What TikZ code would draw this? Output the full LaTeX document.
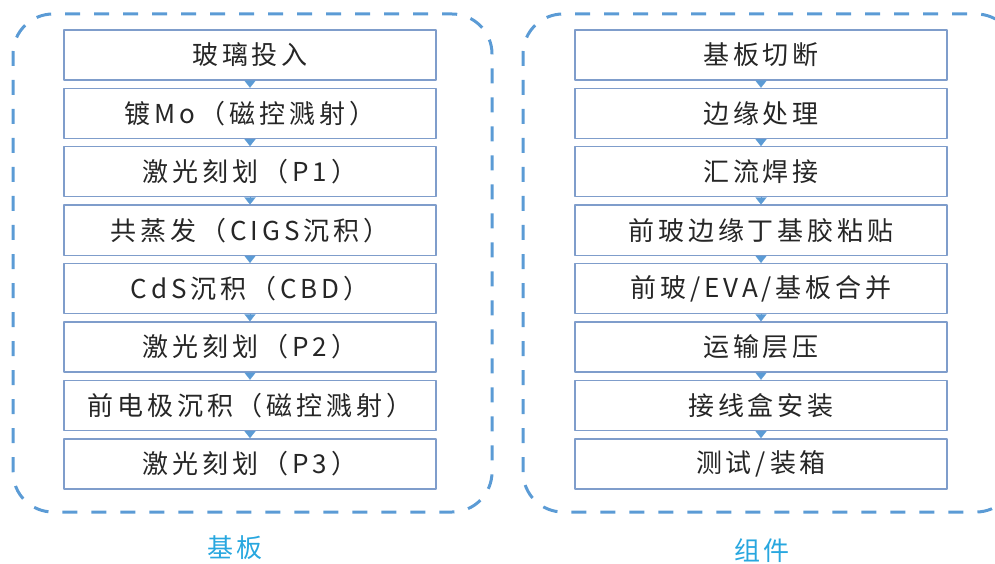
\documentclass[tikz,border=0pt]{standalone}
\usepackage{fontspec}
\setmainfont{Noto Sans CJK SC}
\newfontfamily\boxfont[LetterSpace=15]{Noto Sans CJK SC}
\usetikzlibrary{arrows.meta,positioning}
\definecolor{frameblue}{RGB}{91,155,213}
\definecolor{boxedge}{RGB}{127,157,203}
\definecolor{labelcyan}{RGB}{40,167,223}

\begin{document}
\begin{tikzpicture}[x=1pt,y=1pt,>=Stealth,line join=round,
 stepbox/.style={draw=boxedge,line width=1.4pt,minimum width=372pt,minimum height=50pt,
  inner sep=0pt,font=\boxfont\fontsize{26}{28}\selectfont,text=black!85},
 flowtri/.style={-{Triangle[width=11pt,length=7pt]},frameblue,line width=0.1pt},
 groupframe/.style={draw=frameblue,line width=3pt,dash pattern=on 15pt off 14pt,rounded corners=40pt},
 grouplabel/.style={text=labelcyan,font=\boxfont\fontsize{26}{28}\selectfont}]
 \useasboundingbox (0,0) rectangle (995,563);
 % dashed group frames
 \draw[groupframe] (13,51) rectangle (492,549);
 \draw[groupframe] (523,51) rectangle (1016,549);
 % left column
 \foreach \txt [count=\i] in {玻璃投入,镀Mo（磁控溅射）,激光刻划（P1）,共蒸发（CIGS沉积）,
   CdS沉积（CBD）,激光刻划（P2）,前电极沉积（磁控溅射）,激光刻划（P3）}{
  \node[stepbox] (jb\i) at (250,{508-58.4*(\i-1)}) {\txt};
 }
 % right column
 \foreach \txt [count=\i] in {基板切断,边缘处理,汇流焊接,前玻边缘丁基胶粘贴,
   前玻/EVA/基板合并,运输层压,接线盒安装,测试/装箱}{
  \node[stepbox] (zj\i) at (761,{508-58.4*(\i-1)}) {\txt};
 }
 \foreach \i [count=\j from 2] in {1,...,7}{
  \draw[flowtri] (jb\i.south) -- (jb\j.north);
  \draw[flowtri] (zj\i.south) -- (zj\j.north);
 }
 \node[grouplabel] (jblabel) at (235,15) {基板};
 \node[grouplabel] (zjlabel) at (762,12) {组件};
\end{tikzpicture}
\end{document}
